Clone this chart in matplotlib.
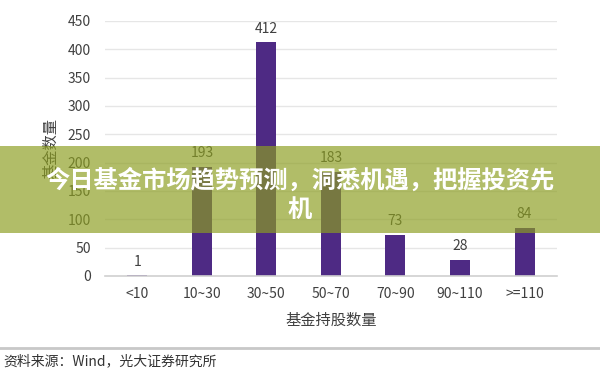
import matplotlib
matplotlib.use("Agg")
import matplotlib.pyplot as plt
from matplotlib.patches import Rectangle
from matplotlib.lines import Line2D

plt.rcParams['font.family'] = ['Noto Sans CJK SC', 'DejaVu Sans']

# data
groups = ['<10', '10~30', '30~50', '50~70', '70~90', '90~110', '>=110']
counts = [1, 193, 412, 183, 73, 28, 84]
y_ticks = [0, 50, 100, 150, 200, 250, 300, 350, 400, 450]

title = '今日基金市场趋势预测，洞悉机遇，把握投资先\n机'
source = '资料来源：Wind，光大证券研究所'

fig = plt.figure(figsize=(6, 3.79), dpi=100)
ax = fig.add_axes([0.175, 0.272, 0.753, 0.673])

x = range(len(groups))
ax.bar(x, counts, width=0.31, color='#4e2a84', zorder=2)
for xi, v in zip(x, counts):
    ax.text(xi, v + 12, str(v), ha='center', va='bottom', fontsize=10,
            color='#404040')

ax.set_xlim(-0.5, len(groups) - 0.5)
ax.set_ylim(0, 450)
ax.set_yticks(y_ticks)
ax.set_xticks(list(x))
ax.set_xticklabels(groups)
ax.tick_params(length=0, labelsize=10, colors='#404040', pad=8)
ax.tick_params(axis='y', pad=10)
ax.grid(axis='y', color='#e6e6e6', linewidth=1, zorder=0)
for s in ['top', 'right', 'left']:
    ax.spines[s].set_visible(False)
ax.spines['bottom'].set_color('#d0d0d0')
ax.spines['bottom'].set_linewidth(1.2)

ax.set_xlabel('基金持股数量', fontsize=11, color='#404040', labelpad=8)
ax.set_ylabel('基金数量', fontsize=11, color='#404040', labelpad=6)

# source line at the bottom
fig.add_artist(Line2D([0, 1], [1 - 348 / 379, 1 - 348 / 379],
                      color='#c8c8c8', linewidth=2, transform=fig.transFigure))
fig.text(0.005, 1 - 361 / 379, source, fontsize=10, color='#333333',
         va='center', ha='left')

# title banner
fig.add_artist(Rectangle((0, 1 - 233 / 379), 1, 87 / 379,
                         transform=fig.transFigure, facecolor='#8c9e21',
                         alpha=0.68, edgecolor='none', zorder=5))
fig.text(0.5, 1 - 195 / 379, title, fontsize=17.5, fontweight='bold',
         color='white', ha='center', va='center', linespacing=1.25, zorder=6)

plt.savefig('out.png', dpi=100)
